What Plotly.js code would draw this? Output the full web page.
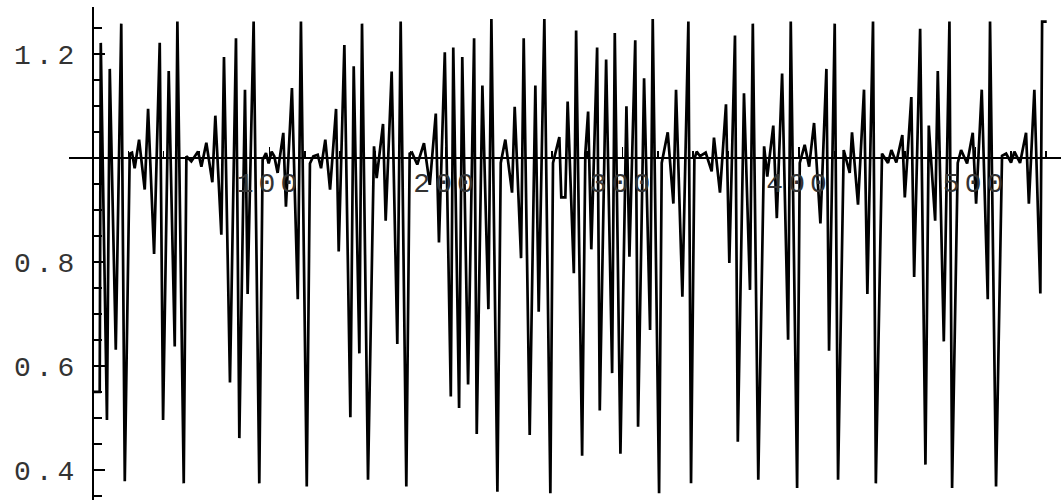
<!DOCTYPE html>
<html>
<head>
<meta charset="utf-8">
<script src="https://cdn.plot.ly/plotly-3.0.1.min.js"></script>
<style>html,body{margin:0;padding:0;background:#fff;}#chart{width:1061px;height:502px;}</style>
</head>
<body>
<div id="chart"></div>
<script>
// sample positions (x) of the polyline vertices
const sampleX = [
  0, 3.8, 4.4, 7.9, 9.5, 12.9, 16.0, 18.0, 20.8, 22.1, 23.6, 26.1, 29.3, 31.2, 34.6, 37.8, 39.7, 42.9, 46.3, 47.8,
  51.4, 52.9, 55.7, 59.5, 61.4, 64.2, 67.6, 69.3, 72.7, 74.2,
  77.6, 81.0, 82.9, 86.1, 87.6, 91.0, 94.2, 96.1, 98.0, 99.5, 101.2, 102.7, 104.6, 107.8, 109.3, 112.7, 116.0, 117.8,
  121.1, 122.9, 124.8, 127.3, 129.2, 131.6, 134.3, 137.7, 139.2, 142.4, 145.8, 147.7, 150.9, 152.4,
  155.8, 159.2, 160.7, 164.3, 165.8, 169.2, 172.4, 174.3, 177.5, 179.4, 180.7, 183.7, 187.5, 190.8, 194.2, 196.0,
  199.3, 202.7, 204.1, 207.4, 209.2, 212.5, 215.9, 217.4, 220.6, 224.0, 225.7, 229.1,
  231.0, 233.6, 237.4, 238.9, 242.5, 244.0, 247.4, 250.6, 252.5, 255.7, 259.1, 260.6, 264.2, 265.3, 267.6, 268.9,
  272.4, 273.7, 277.1, 278.9, 280.5, 282.3, 285.6, 287.1, 290.7, 294.1, 295.6, 298.8, 302.2, 303.9, 307.2, 308.8,
  312.2, 315.6, 317.1, 320.7, 322.2, 325.6, 328.8, 330.3, 333.9, 337.3, 338.8, 340.7, 342.0, 343.9, 347.1, 350.5,
  351.8, 355.2, 358.6, 360.5, 363.7, 365.3, 368.8, 372.2, 373.8, 376.9, 380.2, 382.0, 385.4, 387.4,
  390.4, 393.8, 395.3, 398.9, 400.4, 403.2, 405.7, 408.5, 412.1, 415.5, 417.0, 420.2, 422.1, 425.3, 428.7, 430.0,
  433.4, 436.8, 438.7, 441.9, 443.5, 447.0, 450.4, 452.3, 455.1, 458.5, 459.9, 463.6, 465.2,
  468.6, 471.6, 473.5, 477.1, 478.6, 482.0, 485.2, 486.7, 489.9, 491.8, 495.2, 498.4, 500.3, 503.5, 506.9, 508.2,
  511.6, 515.0, 517.3, 520.1, 522.0, 525.2, 528.6, 530.2, 533.3, 536.7, 537.7, 540.3
];
// values at those vertices
const sampleValue = [
  0.550, 0.550, 1.221, 0.496, 1.171, 0.631, 1.258, 0.378, 1.008, 1.010, 0.980, 1.035, 0.939, 1.094, 0.815, 1.221, 0.496, 1.167, 0.637, 1.262,
  0.374, 1.003, 0.993, 1.012, 0.983, 1.029, 0.953, 1.081, 0.852, 1.194,
  0.568, 1.230, 0.461, 1.131, 0.738, 1.262, 0.374, 0.996, 1.009, 0.989, 1.012, 1.003, 0.971, 1.048, 0.906, 1.134, 0.728, 1.262,
  0.368, 0.989, 1.003, 1.006, 0.980, 1.035, 0.939, 1.094, 0.820, 1.217, 0.501, 1.176, 0.624, 1.258,
  0.381, 1.022, 0.961, 1.065, 0.879, 1.166, 0.642, 1.262, 0.368, 1.008, 1.010, 0.987, 1.028, 0.948, 1.085, 0.837,
  1.203, 0.541, 1.212, 0.519, 1.194, 0.564, 1.230, 0.469, 1.139, 0.709, 1.267, 0.358,
  0.990, 1.035, 0.933, 1.098, 0.807, 1.230, 0.467, 1.139, 0.704, 1.267, 0.355, 0.990, 1.040, 0.924, 0.924, 1.108,
  0.778, 1.245, 0.427, 1.008, 1.089, 0.824, 1.212, 0.514, 1.189, 0.586, 1.240, 0.431, 1.099, 0.810, 1.226, 0.483,
  1.153, 0.669, 1.267, 0.355, 0.990, 1.049, 0.912, 1.131, 0.733, 1.262, 0.374, 0.998, 1.012, 1.003, 1.010, 0.974,
  1.039, 0.933, 1.103, 0.798, 1.235, 0.454, 1.124, 0.746, 1.258, 0.381, 1.022, 0.964, 1.062, 0.884,
  1.162, 0.650, 1.262, 0.365, 0.990, 1.025, 0.983, 1.067, 0.874, 1.171, 0.629, 1.258, 0.381, 1.015, 0.971, 1.049,
  0.910, 1.131, 0.738, 1.262, 0.374, 1.008, 0.990, 1.015, 0.991, 1.044, 0.924, 1.117, 0.771,
  1.248, 0.410, 1.062, 0.879, 1.167, 0.647, 1.262, 0.365, 0.990, 1.015, 0.989, 1.048, 0.912, 1.131, 0.728, 1.262,
  0.368, 1.004, 1.008, 0.991, 1.012, 0.990, 1.048, 0.912, 1.131, 0.739, 1.262, 1.262
];
const xTickValues = [100, 200, 300, 400, 500];
const xTickLabels = ['100', '200', '300', '400', '500'];
const yTickValues = [0.4, 0.6, 0.8, 1.2];
const yTickLabels = ['0.4', '0.6', '0.8', '1.2'];
const xMinorValues = [20, 40, 60, 80, 120, 140, 160, 180, 220, 240, 260, 280, 320, 340, 360, 380, 420, 440, 460, 480, 520, 540];
const yMinorValues = [0.35, 0.45, 0.5, 0.55, 0.65, 0.7, 0.75, 0.85, 0.9, 0.95, 1.05, 1.1, 1.15, 1.25];

const xRange = [-13.6, 548.4];
const yRange = [0.342, 1.29];
const tickFont = {family: 'Liberation Mono, Courier New, monospace', size: 28, color: '#333'};

const trace = {
  x: sampleX, y: sampleValue, type: 'scatter', mode: 'lines',
  line: {color: '#000', width: 2.7, simplify: false}, hoverinfo: 'skip'
};

const layout = {
  width: 1061, height: 502,
  margin: {l: 69, r: 0, t: 7, b: 2, pad: 0},
  paper_bgcolor: '#fff', plot_bgcolor: '#fff',
  showlegend: false,
  xaxis: {
    range: xRange, anchor: 'free',
    position: (1 - yRange[0]) / (yRange[1] - yRange[0]),
    showline: true, linecolor: '#000', linewidth: 2,
    showgrid: false, zeroline: false, automargin: false,
    tickmode: 'array', tickvals: xTickValues, ticktext: xTickLabels,
    ticks: 'inside', ticklen: 10, tickwidth: 1.5, tickcolor: '#000',
    tickfont: tickFont, ticklabelstandoff: 0,
    minor: {tickmode: 'array', tickvals: xMinorValues, ticks: 'inside', ticklen: 6, tickwidth: 1.5, tickcolor: '#000', showgrid: false}
  },
  yaxis: {
    range: yRange, anchor: 'free',
    position: (0 - xRange[0]) / (xRange[1] - xRange[0]),
    showline: true, linecolor: '#000', linewidth: 2,
    showgrid: false, zeroline: false, automargin: false,
    tickmode: 'array', tickvals: yTickValues, ticktext: yTickLabels,
    ticks: 'inside', ticklen: 11, tickwidth: 1.5, tickcolor: '#000',
    tickfont: tickFont, ticklabelstandoff: 7,
    minor: {tickmode: 'array', tickvals: yMinorValues, ticks: 'inside', ticklen: 8, tickwidth: 1.5, tickcolor: '#000', showgrid: false}
  }
};

Plotly.newPlot('chart', [trace], layout, {staticPlot: true, displayModeBar: false}).then(function () {
  document.querySelectorAll('.xtick text, .ytick text').forEach(function (t) {
    t.style.letterSpacing = '5px';
  });
});
</script>
</body>
</html>
